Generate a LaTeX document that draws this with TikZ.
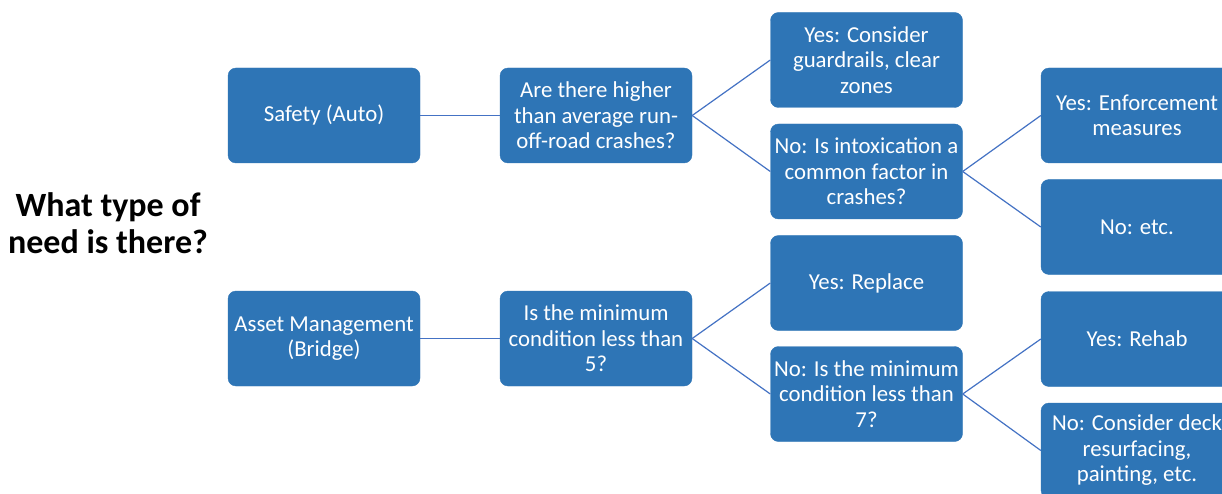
\documentclass[tikz,border=0pt]{standalone}
\usepackage{fontspec}
\setmainfont{Carlito}
\definecolor{boxblue}{RGB}{46,117,182}
\definecolor{lineblue}{RGB}{68,114,196}
\begin{document}
\begin{tikzpicture}[x=1pt,y=-1pt,
  box/.style={fill=boxblue, draw=boxblue, rounded corners=8pt, minimum width=192pt, minimum height=95pt,
    inner sep=2pt, text=white, align=center, font=\fontsize{22.8}{25.5}\selectfont},
  conn/.style={draw=lineblue, line width=1.2pt}]
\useasboundingbox (0,0) rectangle (1222,494);
\clip (0,0) rectangle (1222,494);
\fill[white] (0,0) rectangle (1222,494);
\node[font=\bfseries\fontsize{34}{37}\selectfont, align=center] (title) at (108,223) {What type of\\need is there?};
\node[box] (safety) at (324,115.5) {Safety (Auto)};
\node[box] (q1) at (596,115.5) {Are there higher\\than average run-\\off-road crashes?};
\node[box] (yes1) at (866.5,60) {Yes: Consider\\guardrails, clear\\zones};
\node[box] (no1) at (866.5,171.5) {No: Is intoxication a\\common factor in\\crashes?};
\node[box] (yes2) at (1137,115.5) {Yes: Enforcement\\measures};
\node[box] (no2) at (1137,227) {No: etc.};
\node[box] (asset) at (324,338.5) {Asset Management\\(Bridge)};
\node[box] (q2) at (596,338.5) {Is the minimum\\condition less than\\5?};
\node[box] (yes3) at (866.5,283) {Yes: Replace};
\node[box] (no3) at (866.5,394) {No: Is the minimum\\condition less than\\7?};
\node[box] (yes4) at (1137,339) {Yes: Rehab};
\node[box] (no4) at (1137,450.5) {No: Consider deck\\resurfacing,\\painting, etc.};
\draw[conn] (safety.east) -- (q1.west);
\draw[conn] (q1.east) -- (yes1.west);
\draw[conn] (q1.east) -- (no1.west);
\draw[conn] (no1.east) -- (yes2.west);
\draw[conn] (no1.east) -- (no2.west);
\draw[conn] (asset.east) -- (q2.west);
\draw[conn] (q2.east) -- (yes3.west);
\draw[conn] (q2.east) -- (no3.west);
\draw[conn] (no3.east) -- (yes4.west);
\draw[conn] (no3.east) -- (no4.west);
\end{tikzpicture}
\end{document}
